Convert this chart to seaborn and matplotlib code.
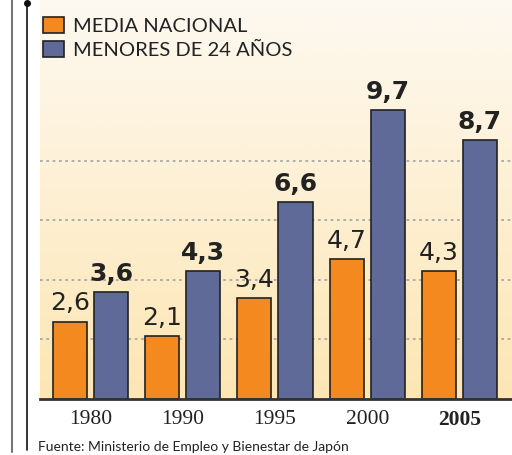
import numpy as np
import pandas as pd
import matplotlib.pyplot as plt
import seaborn as sns
from matplotlib.lines import Line2D
from matplotlib.colors import LinearSegmentedColormap
from matplotlib import font_manager

years = ['1980', '1990', '1995', '2000', '2005']
media_nacional = [2.6, 2.1, 3.4, 4.7, 4.3]
menores_24 = [3.6, 4.3, 6.6, 9.7, 8.7]
series = ['MEDIA NACIONAL', 'MENORES DE 24 AÑOS']

df = pd.DataFrame({
    'year': years * 2,
    'value': media_nacional + menores_24,
    'serie': [series[0]] * len(years) + [series[1]] * len(years),
})

orange = '#F4891F'
blue = '#5F6A98'

# narrow font for value labels if available
names = {f.name for f in font_manager.fontManager.ttflist}
if 'Liberation Sans Narrow' in names:
    val_family, val_size = 'Liberation Sans Narrow', 21
else:
    val_family, val_size = 'DejaVu Sans', 18

sns.set_theme(style='white')
fig = plt.figure(figsize=(5.12, 4.55), dpi=100)
ax = fig.add_axes([40 / 512, 1 - 399 / 455, 472 / 512, 399 / 455])

# background gradient (cream top -> light orange bottom)
cmap = LinearSegmentedColormap.from_list('bg', ['#FDE6B4', '#FDF9F1'])
grad = np.linspace(0, 1, 256).reshape(-1, 1)
ax.imshow(grad, cmap=cmap, origin='lower', extent=[0, 1, 0, 1],
          transform=ax.transAxes, aspect='auto', zorder=0)

sns.barplot(data=df, x='year', y='value', hue='serie', palette=[orange, blue],
            saturation=1, width=0.89, gap=0.17, edgecolor='#222222',
            linewidth=1.2, ax=ax, zorder=2)

ax.set_xlim(-0.547, 4.569)
ax.set_ylim(0, 13.4)
ax.set_yticks([2, 4, 6, 8])
ax.set_yticklabels([])
ax.yaxis.grid(True, linestyle=(0, (1.5, 2)), color='#A8A8A8', linewidth=1.3)
ax.set_axisbelow(True)
ax.tick_params(axis='both', length=0)
ax.tick_params(axis='x', pad=8)
ax.set_xlabel('')
ax.set_ylabel('')
for s in ['top', 'right', 'left']:
    ax.spines[s].set_visible(False)
ax.spines['bottom'].set_color('#333333')
ax.spines['bottom'].set_linewidth(2)

for i, lbl in enumerate(ax.get_xticklabels()):
    lbl.set_fontfamily('Liberation Serif')
    lbl.set_fontsize(15.5)
    lbl.set_color('#222222')
    if i == len(years) - 1:
        lbl.set_fontweight('bold')

# value labels
for cont, weight in zip(ax.containers, ['normal', 'bold']):
    for bar in cont:
        h = bar.get_height()
        ax.annotate(f'{h:.1f}'.replace('.', ','),
                    (bar.get_x() + bar.get_width() / 2, h),
                    xytext=(0, 8), textcoords='offset points',
                    ha='center', va='baseline', fontsize=val_size,
                    fontweight=weight, color='#222222', family=val_family)

handles, labels = ax.get_legend_handles_labels()
leg = ax.legend(handles, labels, loc='upper left', bbox_to_anchor=(0.006, 0.957),
                frameon=False, handlelength=1.05, handleheight=0.85,
                handletextpad=0.45, labelspacing=0.28, borderpad=0, borderaxespad=0,
                prop={'family': 'Lato', 'size': 14.5})
for t in leg.get_texts():
    t.set_color('#222222')

# left decorative rules
fig.add_artist(Line2D([12 / 512, 12 / 512], [1, 3 / 455], color='#777777',
                      linewidth=1.5, transform=fig.transFigure))
fig.add_artist(Line2D([27 / 512, 27 / 512], [1 - 3 / 455, 5 / 455], color='#111111',
                      linewidth=1.2, transform=fig.transFigure))
fig.add_artist(Line2D([27 / 512], [1 - 3 / 455], marker='o', markersize=4,
                      color='#111111', transform=fig.transFigure))

fig.text(38 / 512, 1 - 447 / 455, 'Fuente: Ministerio de Empleo y Bienestar de Japón',
         ha='left', va='center', fontsize=10, family='Lato', color='#222222')

fig.savefig('out.png', dpi=100)
